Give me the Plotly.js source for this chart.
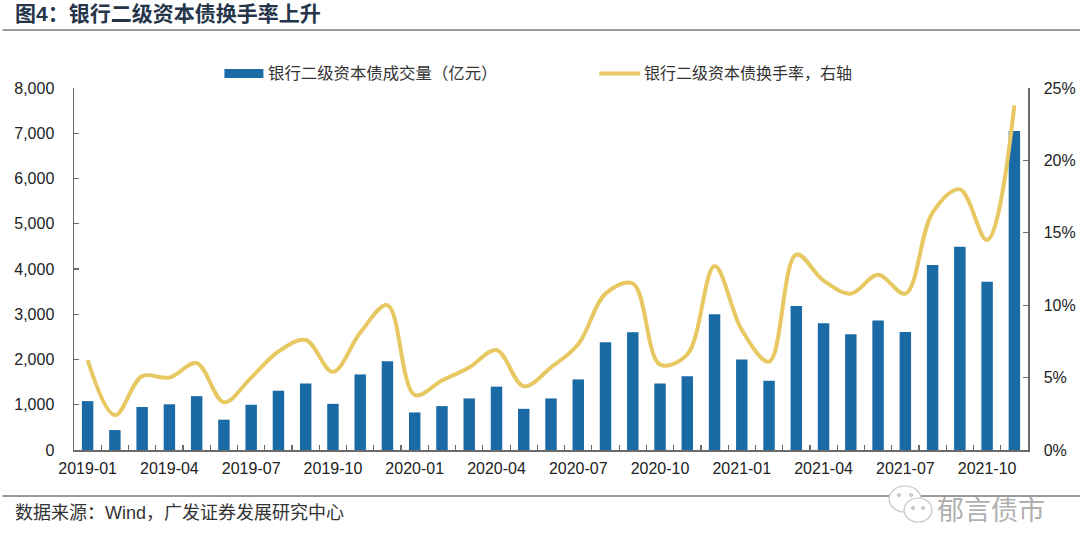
<!DOCTYPE html>
<html>
<head>
<meta charset="utf-8">
<script src="https://cdn.plot.ly/plotly-3.0.1.min.js"></script>
<style>html,body{margin:0;padding:0;background:#fff}#c{width:1080px;height:554px}</style>
</head>
<body>
<div id="c"></div>
<script>
const months = ["2019-01","2019-02","2019-03","2019-04","2019-05","2019-06","2019-07","2019-08","2019-09","2019-10","2019-11","2019-12",
"2020-01","2020-02","2020-03","2020-04","2020-05","2020-06","2020-07","2020-08","2020-09","2020-10","2020-11","2020-12",
"2021-01","2021-02","2021-03","2021-04","2021-05","2021-06","2021-07","2021-08","2021-09","2021-10","2021-11"];
const volume = [1080,440,950,1010,1190,670,1000,1310,1470,1020,1670,1960,
830,970,1140,1400,910,1140,1560,2380,2600,1470,1630,3000,
2000,1530,3180,2800,2560,2860,2610,4090,4490,3720,7050];
const turnover = [6.2,2.4,5.1,5.0,6.0,3.3,5.0,6.8,7.6,5.4,8.1,10.0,
3.8,4.8,5.7,6.9,4.4,5.7,7.3,10.8,11.5,5.9,6.6,12.7,
8.3,6.1,13.5,11.7,10.8,12.1,10.8,16.4,18.0,14.5,23.8];
const leftTicks = [0,1000,2000,3000,4000,5000,6000,7000,8000];
const rightTicks = [0,5,10,15,20,25];
const barName = "银行二级资本债成交量（亿元）";
const lineName = "银行二级资本债换手率，右轴";
const titleText = "图4：银行二级资本债换手率上升";
const sourceText = "数据来源：Wind，广发证券发展研究中心";
const markText = "郁言债市";

const L=73.5,R=1028,T=88,B=450,W=1080,H=554;
const px=x=>(x-L)/(R-L), py=y=>(B-y)/(B-T);
const cjk='"Liberation Sans","Noto Sans CJK SC",sans-serif';
const axisCol='#6b6b6b', barCol='#1a6aa6', lineCol='#e8c863';
const hline=(y,x0,x1)=>({type:'line',xref:'paper',yref:'paper',x0:px(x0),x1:px(x1),y0:py(y),y1:py(y),line:{color:'#777',width:1.5},layer:'below'});
const bubble=(cx,cy,rx,ry)=>({type:'circle',xref:'paper',yref:'paper',x0:px(cx-rx),x1:px(cx+rx),y0:py(cy+ry),y1:py(cy-ry),line:{color:'#c4c4c4',width:1.2},fillcolor:'#fff'});
const dot=(cx,cy)=>({type:'circle',xref:'paper',yref:'paper',x0:px(cx-1.5),x1:px(cx+1.5),y0:py(cy+1.5),y1:py(cy-1.5),line:{color:'#bbb',width:1},fillcolor:'#ddd'});
const label=(x,y,text,size,color)=>({xref:'paper',yref:'paper',x:px(x),y:py(y),xanchor:'left',yanchor:'middle',showarrow:false,text:text,font:{size:size,color:color,family:cjk}});

const traces=[
{type:'bar',x:months,y:volume,name:barName,marker:{color:barCol},yaxis:'y'},
{type:'scatter',mode:'lines',x:months,y:turnover,name:lineName,yaxis:'y2',line:{color:lineCol,width:4,shape:'spline',smoothing:1.0}}
];
const layout={
width:W,height:H,paper_bgcolor:'#fff',plot_bgcolor:'#fff',
margin:{l:L,r:W-R,t:T,b:H-B,pad:0},
bargap:0.58,showlegend:false,
font:{family:cjk,color:'#222',size:16},
xaxis:{type:'category',categoryorder:'array',categoryarray:months,tickmode:'linear',tick0:0,dtick:1,ticklabelstep:3,tickson:'boundaries',ticks:'inside',ticklen:5,tickcolor:axisCol,tickwidth:1.2,
 showline:true,linecolor:axisCol,linewidth:1.5,showgrid:false,zeroline:false,tickangle:0,tickfont:{size:16,color:'#222'},ticklabelstandoff:3},
yaxis:{range:[0,8000],tickmode:'array',tickvals:leftTicks,ticktext:leftTicks.map(v=>v.toLocaleString('en-US')),ticks:'inside',ticklen:5,tickcolor:axisCol,tickwidth:1.2,
 showline:true,linecolor:axisCol,linewidth:1.5,showgrid:false,zeroline:false,tickfont:{size:16,color:'#222'},ticklabelstandoff:15},
yaxis2:{range:[0,25],overlaying:'y',side:'right',tickmode:'array',tickvals:rightTicks,ticktext:rightTicks.map(v=>v+'%'),ticks:'inside',ticklen:5,tickcolor:axisCol,tickwidth:1.2,
 showline:true,linecolor:axisCol,linewidth:1.5,showgrid:false,zeroline:false,tickfont:{size:16,color:'#222'},ticklabelstandoff:11},
shapes:[hline(30,2,1080),hline(496,2,1080),
 {type:'rect',xref:'paper',yref:'paper',x0:px(224),x1:px(263),y0:py(78),y1:py(69),fillcolor:barCol,line:{width:0}},
 {type:'line',xref:'paper',yref:'paper',x0:px(599),x1:px(640),y0:py(73.5),y1:py(73.5),line:{color:lineCol,width:4}},
 bubble(905,499,16,13),bubble(918,510,14,12),dot(899,495),dot(911,495),dot(913,508),dot(923,508)],
annotations:[
label(12,13,'<b>'+titleText+'</b>',21,'#25364a'),
label(12,513,sourceText,18,'#333'),
label(266,73,barName,16.4,'#333'),
label(642,73,lineName,16,'#333'),
{xref:'paper',yref:'paper',x:px(935),y:py(508),xanchor:'left',yanchor:'middle',showarrow:false,text:markText,font:{size:27,color:'#b0b0b0',family:'"Noto Sans CJK SC",sans-serif'}}
]};
Plotly.newPlot('c',traces,layout,{displayModeBar:false,staticPlot:true});
</script>
</body>
</html>
